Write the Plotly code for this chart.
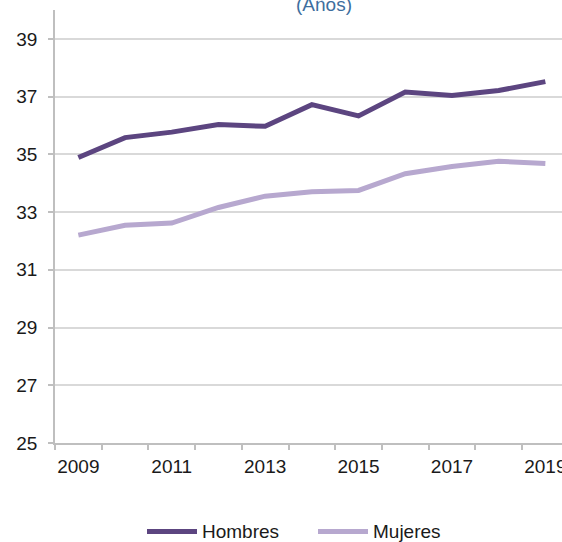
import plotly.graph_objects as go

years = list(range(2009, 2020))
hombres = [34.89, 35.58, 35.77, 36.03, 35.97, 36.72, 36.33, 37.16, 37.04, 37.21, 37.52]
mujeres = [32.20, 32.54, 32.62, 33.16, 33.55, 33.70, 33.75, 34.33, 34.58, 34.76, 34.68]
series_names = ["Hombres", "Mujeres"]
series_colors = ["#5C4580", "#B7A8CF"]
x_ticks = [2009, 2011, 2013, 2015, 2017, 2019]
y_ticks = [25, 27, 29, 31, 33, 35, 37, 39]

FONT = "Liberation Sans, Arial, sans-serif"
AXIS_COLOR = "#BFBFBF"
GRID_COLOR = "#D9D9D9"
FS = 19

W, H = 562, 542
L, R, T, B = 55, 0, 10, 99
plot_w = W - L - R
plot_h = H - T - B

fig = go.Figure()
for name, vals, color in zip(series_names, [hombres, mujeres], series_colors):
    fig.add_trace(go.Scatter(
        x=years, y=vals, mode="lines", name=name,
        line=dict(color=color, width=5),
        showlegend=False,
    ))

fig.update_layout(
    width=W, height=H,
    margin=dict(l=L, r=R, t=T, b=B, autoexpand=False),
    paper_bgcolor="white", plot_bgcolor="white",
    font=dict(family=FONT, size=FS, color="#1a1a1a"),
    showlegend=False,
)

fig.update_xaxes(
    range=[2008.5, 2008.5 + plot_w / 46.7],
    tickvals=x_ticks, ticks="outside", ticklen=5, tickcolor="rgba(0,0,0,0)",
    ticklabeloverflow="allow",
    showgrid=False, zeroline=False,
    showline=True, linecolor=AXIS_COLOR, linewidth=1.5,
    automargin=False,
    minor=dict(tickvals=[y - 0.5 for y in years], ticks="outside",
               ticklen=5, tickcolor=AXIS_COLOR, tickwidth=1.5, showgrid=False),
)
fig.update_yaxes(
    range=[25, 40],
    tickvals=y_ticks, ticks="outside", ticklen=5, tickcolor=AXIS_COLOR, tickwidth=1.5,
    showgrid=True, gridcolor=GRID_COLOR, gridwidth=1.5, zeroline=False,
    showline=True, linecolor=AXIS_COLOR, linewidth=1.5,
    ticklabelstandoff=7,
    automargin=False,
)

# title, cut off at the top as in the source
fig.add_annotation(
    text="(Años)", xref="paper", yref="paper",
    x=(324 - L) / plot_w, y=1, xanchor="center", yanchor="middle", yshift=6,
    showarrow=False, font=dict(size=FS, color="#3D6E9E", family=FONT),
)

# legend drawn by hand to get the long line samples
legend_y = (H - B - 531.5) / plot_h
for name, color, x0 in zip(series_names, series_colors, [147, 318]):
    fig.add_shape(
        type="line", xref="paper", yref="paper",
        x0=(x0 - L) / plot_w, x1=(x0 + 50 - L) / plot_w, y0=legend_y, y1=legend_y,
        line=dict(color=color, width=5),
    )
    fig.add_annotation(
        text=name, xref="paper", yref="paper",
        x=(x0 + 53 - L) / plot_w, y=legend_y, xanchor="left", yanchor="middle",
        showarrow=False, font=dict(size=FS, color="#1a1a1a", family=FONT),
    )

fig.write_html(
    "out.html",
    config=dict(displayModeBar=False),
    post_script="document.body.style.margin='0px';",
)
